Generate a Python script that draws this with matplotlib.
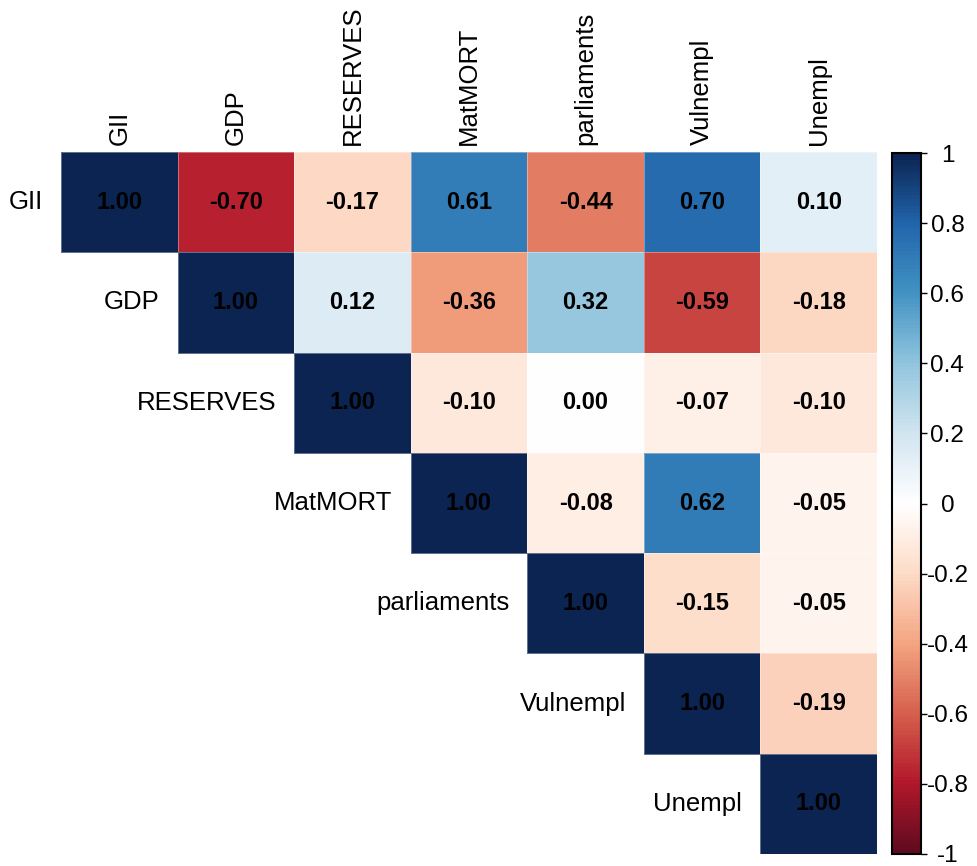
import numpy as np
import matplotlib
matplotlib.use("Agg")
import matplotlib.pyplot as plt
from matplotlib.colors import LinearSegmentedColormap, Normalize, FuncNorm
from matplotlib.cm import ScalarMappable

plt.rcParams['font.family'] = ['Liberation Sans', 'DejaVu Sans']

variables = ["GII", "GDP", "RESERVES", "MatMORT", "parliaments", "Vulnempl", "Unempl"]

# Upper-triangle correlations, one list per row starting at the diagonal
row_GII = [1.00, -0.70, -0.17, 0.61, -0.44, 0.70, 0.10]
row_GDP = [1.00, 0.12, -0.36, 0.32, -0.59, -0.18]
row_RESERVES = [1.00, -0.10, 0.00, -0.07, -0.10]
row_MatMORT = [1.00, -0.08, 0.62, -0.05]
row_parliaments = [1.00, -0.15, -0.05]
row_Vulnempl = [1.00, -0.19]
row_Unempl = [1.00]

rows = [row_GII, row_GDP, row_RESERVES, row_MatMORT, row_parliaments, row_Vulnempl, row_Unempl]
n = len(variables)

# Brewer RdBu diverging palette (red = negative, blue = positive)
rdbu = ["#5F0A1F", "#B2182B", "#D6604D", "#F4A582", "#FDDBC7", "#FFFFFF",
        "#D1E5F0", "#92C5DE", "#4393C3", "#2166AC", "#0B2452"]
cmap = LinearSegmentedColormap.from_list("rdbu_corr", rdbu, N=200)
norm = Normalize(vmin=-1, vmax=1)


# Cell shading leans slightly toward the saturated ends of the palette
def _fwd(v):
    v = np.asarray(v, dtype=float)
    return np.sign(v) * (1 - (1 - np.clip(np.abs(v), 0, 1)) ** 1.25)


def _inv(p):
    p = np.asarray(p, dtype=float)
    return np.sign(p) * (1 - (1 - np.clip(np.abs(p), 0, 1)) ** 0.8)


cell_norm = FuncNorm((_fwd, _inv), vmin=-1, vmax=1)

W, H = 978, 866
fig = plt.figure(figsize=(W / 100, H / 100), dpi=100)

left, right, top, bottom = 61, 877, 152, 854
ax = fig.add_axes([left / W, 1 - bottom / H, (right - left) / W, (bottom - top) / H])
ax.set_xlim(0, n)
ax.set_ylim(n, 0)
ax.axis("off")

# Each row of the upper triangle is drawn as its own strip of cells
for i, r in enumerate(rows):
    vals = np.asarray(r, dtype=float)[np.newaxis, :]
    xs = np.arange(i, n + 1)
    ax.pcolormesh(xs, [i, i + 1], vals, cmap=cmap, norm=cell_norm,
                  edgecolors=(1, 1, 1, 0.35), linewidth=0.4)
    for k, v in enumerate(r):
        ax.text(i + k + 0.5, i + 0.5, f"{v:.2f}", ha="center", va="center",
                fontsize=17, fontweight="bold", color="black")

# Row labels sit to the left of each diagonal cell
for i, name in enumerate(variables):
    ax.annotate(name, xy=(i, i + 0.5), xytext=(-13, 0), textcoords="offset points",
                ha="right", va="center", fontsize=18.5, color="black")

# Column labels above the grid, rotated
for j, name in enumerate(variables):
    ax.annotate(name, xy=(j + 0.5, 0), xytext=(0, 5), textcoords="offset points",
                ha="center", va="bottom", rotation=90, fontsize=18.5, color="black")

# Colour legend
cax = fig.add_axes([892 / W, 1 - 854 / H, 29 / W, (854 - 153) / H])
sm = ScalarMappable(norm=norm, cmap=cmap)
cb = fig.colorbar(sm, cax=cax)
ticks = np.round(np.arange(-1, 1.01, 0.2), 1)
cb.set_ticks(ticks)
cb.set_ticklabels([("0" if abs(t) < 1e-9 else f"{t:g}") for t in ticks])
cb.outline.set_edgecolor("black")
cb.outline.set_linewidth(1.5)
cax.tick_params(length=4, width=1, color="black", labelsize=17.5, pad=15)
for lab in cax.get_yticklabels():
    lab.set_horizontalalignment("center")

fig.savefig("out.png", dpi=100)
